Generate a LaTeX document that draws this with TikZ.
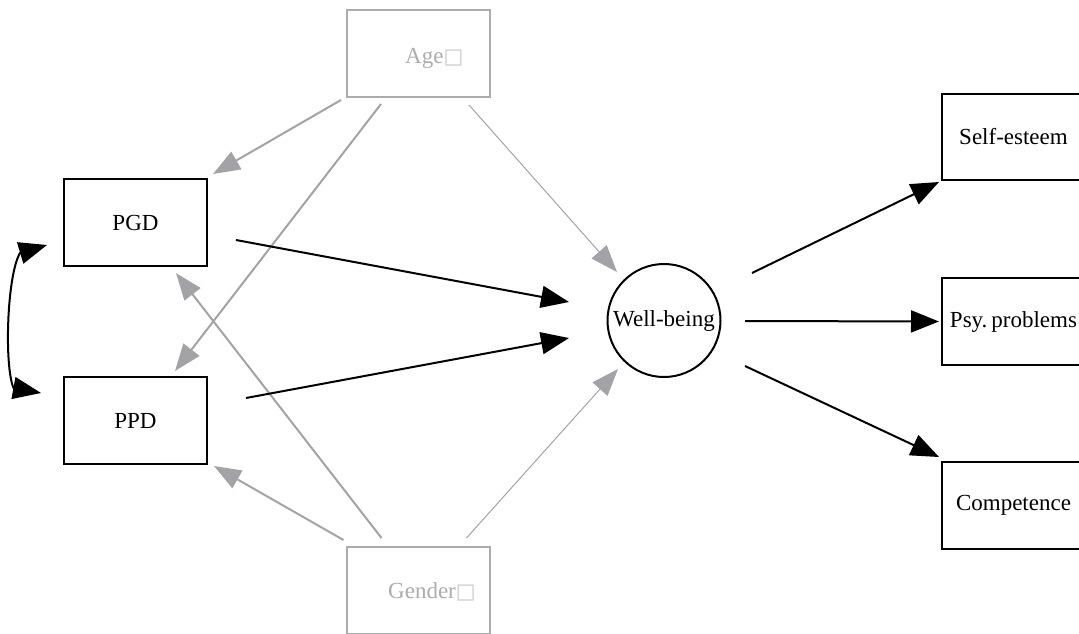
\documentclass[tikz,border=0pt]{standalone}
\usepackage{fontspec}
\setmainfont{Liberation Serif}
\newfontfamily\dejavu{DejaVu Sans}
\usetikzlibrary{arrows.meta,calc}
\definecolor{garrow}{RGB}{163,163,167}
\definecolor{gbox}{RGB}{172,172,172}
\definecolor{gsq}{RGB}{200,200,200}
\begin{document}
\begin{tikzpicture}[x=1pt,y=-1pt,
  every node/.style={font=\fontsize{23}{27}\selectfont},
  bbox/.style={draw=black, line width=2pt, minimum width=143pt, minimum height=87pt, inner sep=0pt},
  gbx/.style={draw=gbox, line width=2pt, minimum width=143pt, minimum height=87pt, inner sep=0pt},
  gtext/.style={text=gbox, inner sep=0pt, anchor=base west},
  blk/.style={draw=black, line width=2pt, -{Triangle[length=28pt,width=22pt]}},
  dbl/.style={draw=black, line width=2pt, line join=round, {Triangle[length=28pt,width=22pt]}-{Triangle[length=28pt,width=22pt]}},
  gry/.style={draw=garrow, line width=2pt, -{Triangle[length=27pt,width=20pt]}},
  gthin/.style={draw=garrow, line width=1pt, -{Triangle[length=27pt,width=20pt]}},
]
\useasboundingbox (0,0) rectangle (1079,633);

% nodes
\node[gbx] (age) at (418.5,53.5) {};
\node[gtext] (agetxt) at ($(age.center)+(-13.5,9.5)$) {Age{\dejavu\fontsize{21}{24}\selectfont\color{gsq}□}};
\node[gbx] (gender) at (418,590.5) {};
\node[gtext] (gendertxt) at ($(gender.center)+(-30,7.5)$) {Gender{\dejavu\fontsize{21}{24}\selectfont\color{gsq}□}};

\node[bbox] (pgd) at (135.5,222.5) {PGD};
\node[bbox] (ppd) at (135.5,420.5) {PPD};

\node[draw=black, line width=2pt, circle, minimum size=113pt, inner sep=0pt] (wb) at (664,320.5) {Well-being};

\node[bbox, minimum height=86pt] (se) at (1013.5,137) {Self-esteem};
\node[bbox] (psy) at (1013.5,321.5) {Psy.\hspace{4pt}problems};
\node[bbox] (comp) at (1013.5,505.5) {Competence};

% grey arrows from Age
\draw[gry] ($(age.south west)+(-5,2)$) -- ($(pgd.north east)+(5,-4)$);
\draw[gry] ($(age.south west)+(35,6)$) -- ($(ppd.north east)+(-33,-5)$);
\draw[gthin] ($(age.south east)+(-22,7)$) -- ($(wb.center)+(-47,-48.5)$);

% grey arrows from Gender
\draw[gry] ($(gender.north west)+(36,-8)$) -- ($(pgd.south east)+(-32,6)$);
\draw[gry] ($(gender.north west)+(-2,-6)$) -- ($(ppd.south east)+(6,1)$);
\draw[gthin] ($(gender.north east)+(-24,-8)$) -- ($(wb.center)+(-46,48.5)$);

% black arrows
\draw[blk] ($(pgd.east)+(28,17.5)$) -- ($(wb.center)+(-95,-18.5)$);
\draw[blk] ($(ppd.east)+(38,-22.5)$) -- ($(wb.center)+(-95,17.5)$);
\draw[blk] ($(wb.center)+(88,-47.5)$) -- ($(se.south west)+(-2,1)$);
\draw[blk] ($(wb.center)+(81,0.5)$) -- ($(psy.west)+(-2,0)$);
\draw[blk] ($(wb.center)+(81,45.5)$) -- ($(comp.north west)+(-2,-4)$);

% covariance curve
\coordinate (c1) at ($(pgd.west)+(-16,22.5)$);
\coordinate (c2) at ($(ppd.west)+(-22,-27.5)$);
\draw[dbl] (c1) -- (20,253) .. controls (7,275) and (4,365) .. (13.5,388) -- (c2);
\end{tikzpicture}
\end{document}
